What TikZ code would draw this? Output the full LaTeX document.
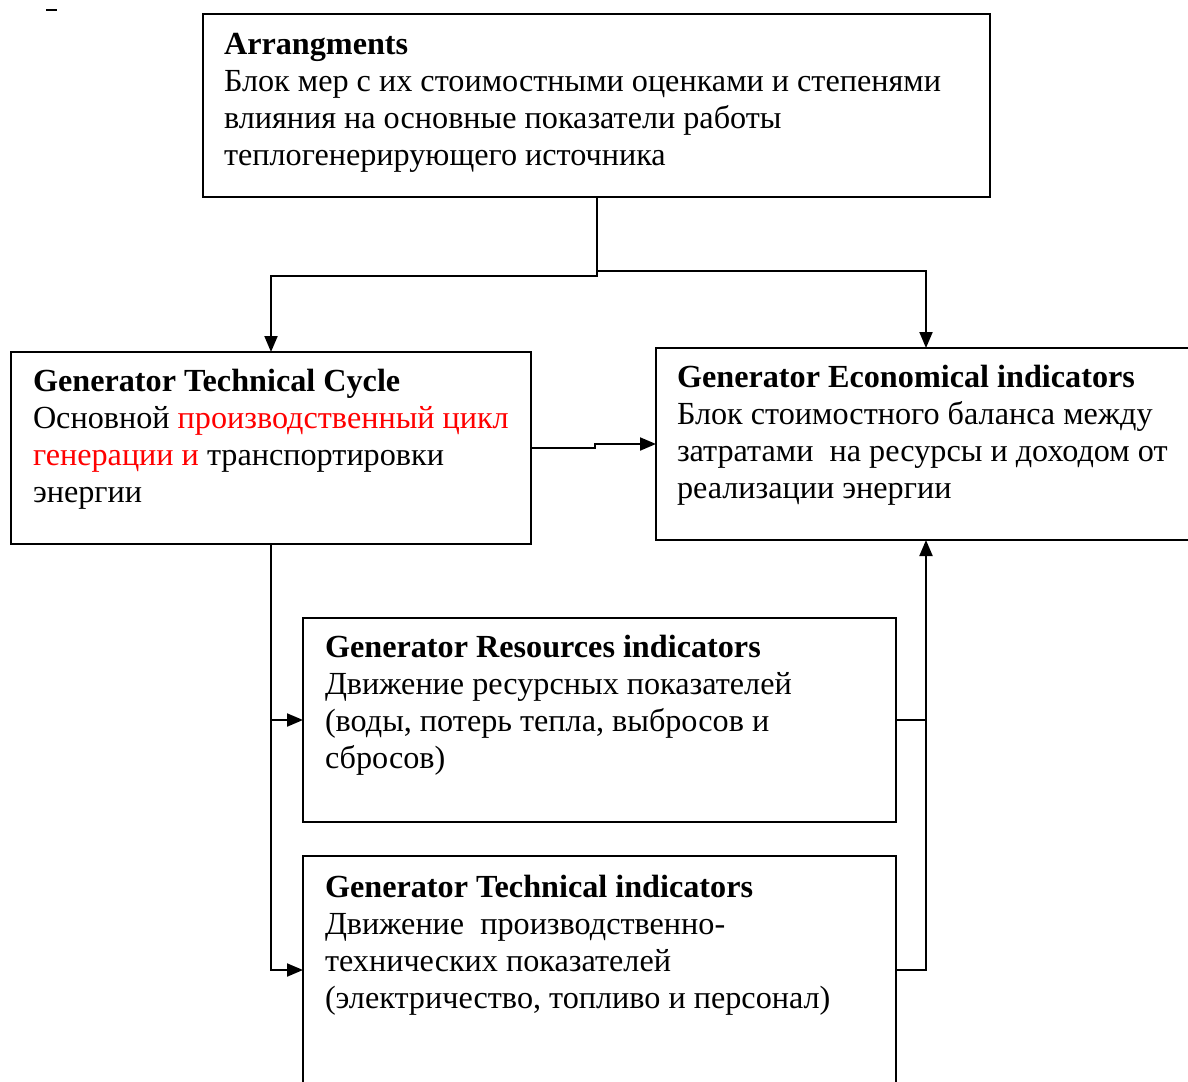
\documentclass[tikz,border=0pt]{standalone}
\usepackage{fontspec}
\setmainfont{Liberation Serif}
\usetikzlibrary{arrows.meta}
\definecolor{hlred}{RGB}{255,0,0}
\tikzset{
  box/.style={draw=black, line width=2pt, rectangle, inner sep=0pt, outer sep=0pt, anchor=north west},
  txt/.style={anchor=north west, inner sep=0pt, outer sep=0pt, align=left, font=\fontsize{32.2}{37}\selectfont},
  conn/.style={draw=black, line width=2pt},
  arr/.style={conn, -{Triangle[length=16pt,width=13pt]}}
}
\begin{document}
\begin{tikzpicture}[x=1pt, y=-1pt]
\path[use as bounding box] (0,0) rectangle (1188,1081);
% stray mark
\draw[line width=1.5pt] (46,10) -- (57,10);
% boxes
\node[box, minimum width=787pt, minimum height=183pt] (arrbox) at (203,14) {};
\node[box, minimum width=520pt, minimum height=192pt] (cycle) at (11,352) {};
\node[box, minimum width=540pt, minimum height=192pt] (econ) at (656,348) {};
\node[box, minimum width=593pt, minimum height=204pt] (res) at (303,618) {};
\node[box, minimum width=593pt, minimum height=228pt] (tech) at (303,856) {};
% texts
\node[txt] (arrtxt) at ([xshift=21pt,yshift=-15pt]arrbox.north west)
  {\strut\textbf{Arrangments}\\Блок мер с их стоимостными оценками и степенями\\влияния на основные показатели работы\\теплогенерирующего источника};
\node[txt] (cycletxt) at ([xshift=22pt,yshift=-14pt]cycle.north west)
  {\strut\textbf{Generator Technical Cycle}\\Основной \textcolor{hlred}{производственный цикл}\\\textcolor{hlred}{генерации и} транспортировки\\энергии};
\node[txt] (econtxt) at ([xshift=21pt,yshift=-14pt]econ.north west)
  {\strut\textbf{Generator Economical indicators}\\Блок стоимостного баланса между\\затратами~ на ресурсы и доходом от\\реализации энергии};
\node[txt] (restxt) at ([xshift=22pt,yshift=-14pt]res.north west)
  {\strut\textbf{Generator Resources indicators}\\Движение ресурсных показателей\\(воды, потерь тепла, выбросов и\\сбросов)};
\node[txt] (techtxt) at ([xshift=22pt,yshift=-16pt]tech.north west)
  {\strut\textbf{Generator Technical indicators}\\Движение~ производственно-\\технических показателей\\(электричество, топливо и персонал)};
% connectors
\draw[arr] (arrbox.south) -- ++(0,79) -| (cycle.north);
\draw[arr] (arrbox.south) -- ++(0,74) -| (econ.north);
\draw[arr] (cycle.east) -- ++(64,0) |- (econ.west);
\draw[arr] (cycle.south) |- (res.west);
\draw[arr] (cycle.south) |- (tech.west);
\draw[conn] (res.east) -- (res.east -| econ.south);
\draw[arr] (tech.east) -| (econ.south);
\end{tikzpicture}
\end{document}
